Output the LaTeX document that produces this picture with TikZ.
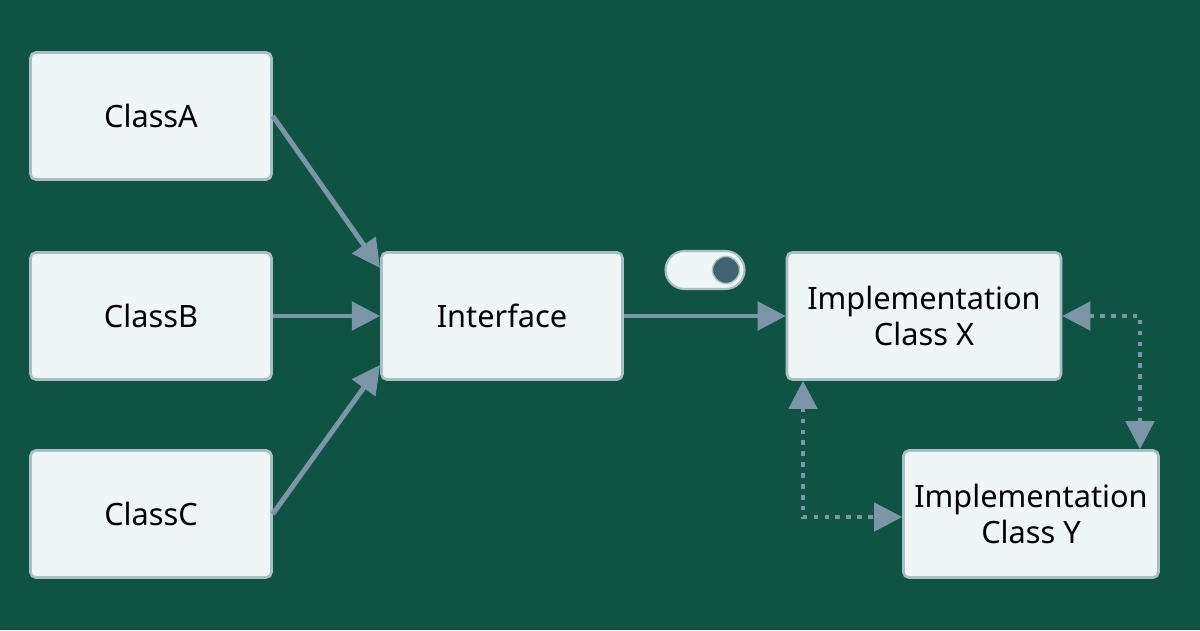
\documentclass[tikz,border=0pt]{standalone}
\usepackage{fontspec}
\setmainfont{Noto Sans}
\usetikzlibrary{arrows.meta,calc}
\definecolor{bggreen}{HTML}{0F5443}
\definecolor{boxfill}{HTML}{EEF6F6}
\definecolor{boxline}{HTML}{A9BFC4}
\definecolor{arrowc}{HTML}{7C96A8}
\definecolor{knob}{HTML}{3F6470}
\tikzset{
  cls/.style = {draw=boxline, line width=1.5pt, fill=boxfill, rounded corners=3pt,
    minimum width=4.82cm, minimum height=2.54cm, align=center,
    font=\fontsize{17.5}{21}\selectfont, inner sep=0pt},
  link/.style = {draw=arrowc, line width=2.8pt, -{Triangle[length=16pt,width=16pt]}},
  dlink/.style = {draw=arrowc, line width=2.6pt, dash pattern=on 2.6pt off 3.6pt,
    {Triangle[length=16pt,width=16pt]}-{Triangle[length=16pt,width=16pt]}}
}
\begin{document}
\begin{tikzpicture}[x=0.02cm,y=-0.02cm]
    \fill[bggreen] (0,0) rectangle (1200,630);
    \useasboundingbox (0,0) rectangle (1200,630);

    \node[cls] (classa) at (151,116) {ClassA};
    \node[cls] (classb) at (151,316) {ClassB};
    \node[cls] (classc) at (151,514) {ClassC};
    \node[cls] (iface) at (502,316) {Interface};
    \node[cls, minimum width=5.48cm] (implx) at (924,316) {Implementation\\Class X};
    \node[cls, minimum width=5.1cm] (imply) at (1031,514) {Implementation\\Class Y};

    % toggle switch
    \node[draw=boxline, line width=1.2pt, fill=boxfill, rounded corners=0.38cm,
      minimum width=1.58cm, minimum height=0.76cm] (toggle) at (705,270) {};
    \node[circle, fill=knob, draw=boxline, line width=0.8pt, minimum size=0.54cm,
      inner sep=0pt] (knob) at (726,270) {};

    \coordinate (ina) at (380,268);
    \coordinate (inb) at (380,316);
    \coordinate (inc) at (380,365);
    \coordinate (xr) at (1140,316);
    \coordinate (xl) at (803,517);

    \draw[link] (classa.east |- 0,116) -- (ina);
    \draw[link] (classb.east) -- (inb);
    \draw[link] (classc.east) -- (inc);
    \draw[link] (iface.east) -- (implx.west);

    \draw[dlink] (implx.east) -- (xr) -- (xr |- imply.north);
    \draw[dlink] (xl |- implx.south) -- (xl) -- (imply.west |- xl);
\end{tikzpicture}
\end{document}
